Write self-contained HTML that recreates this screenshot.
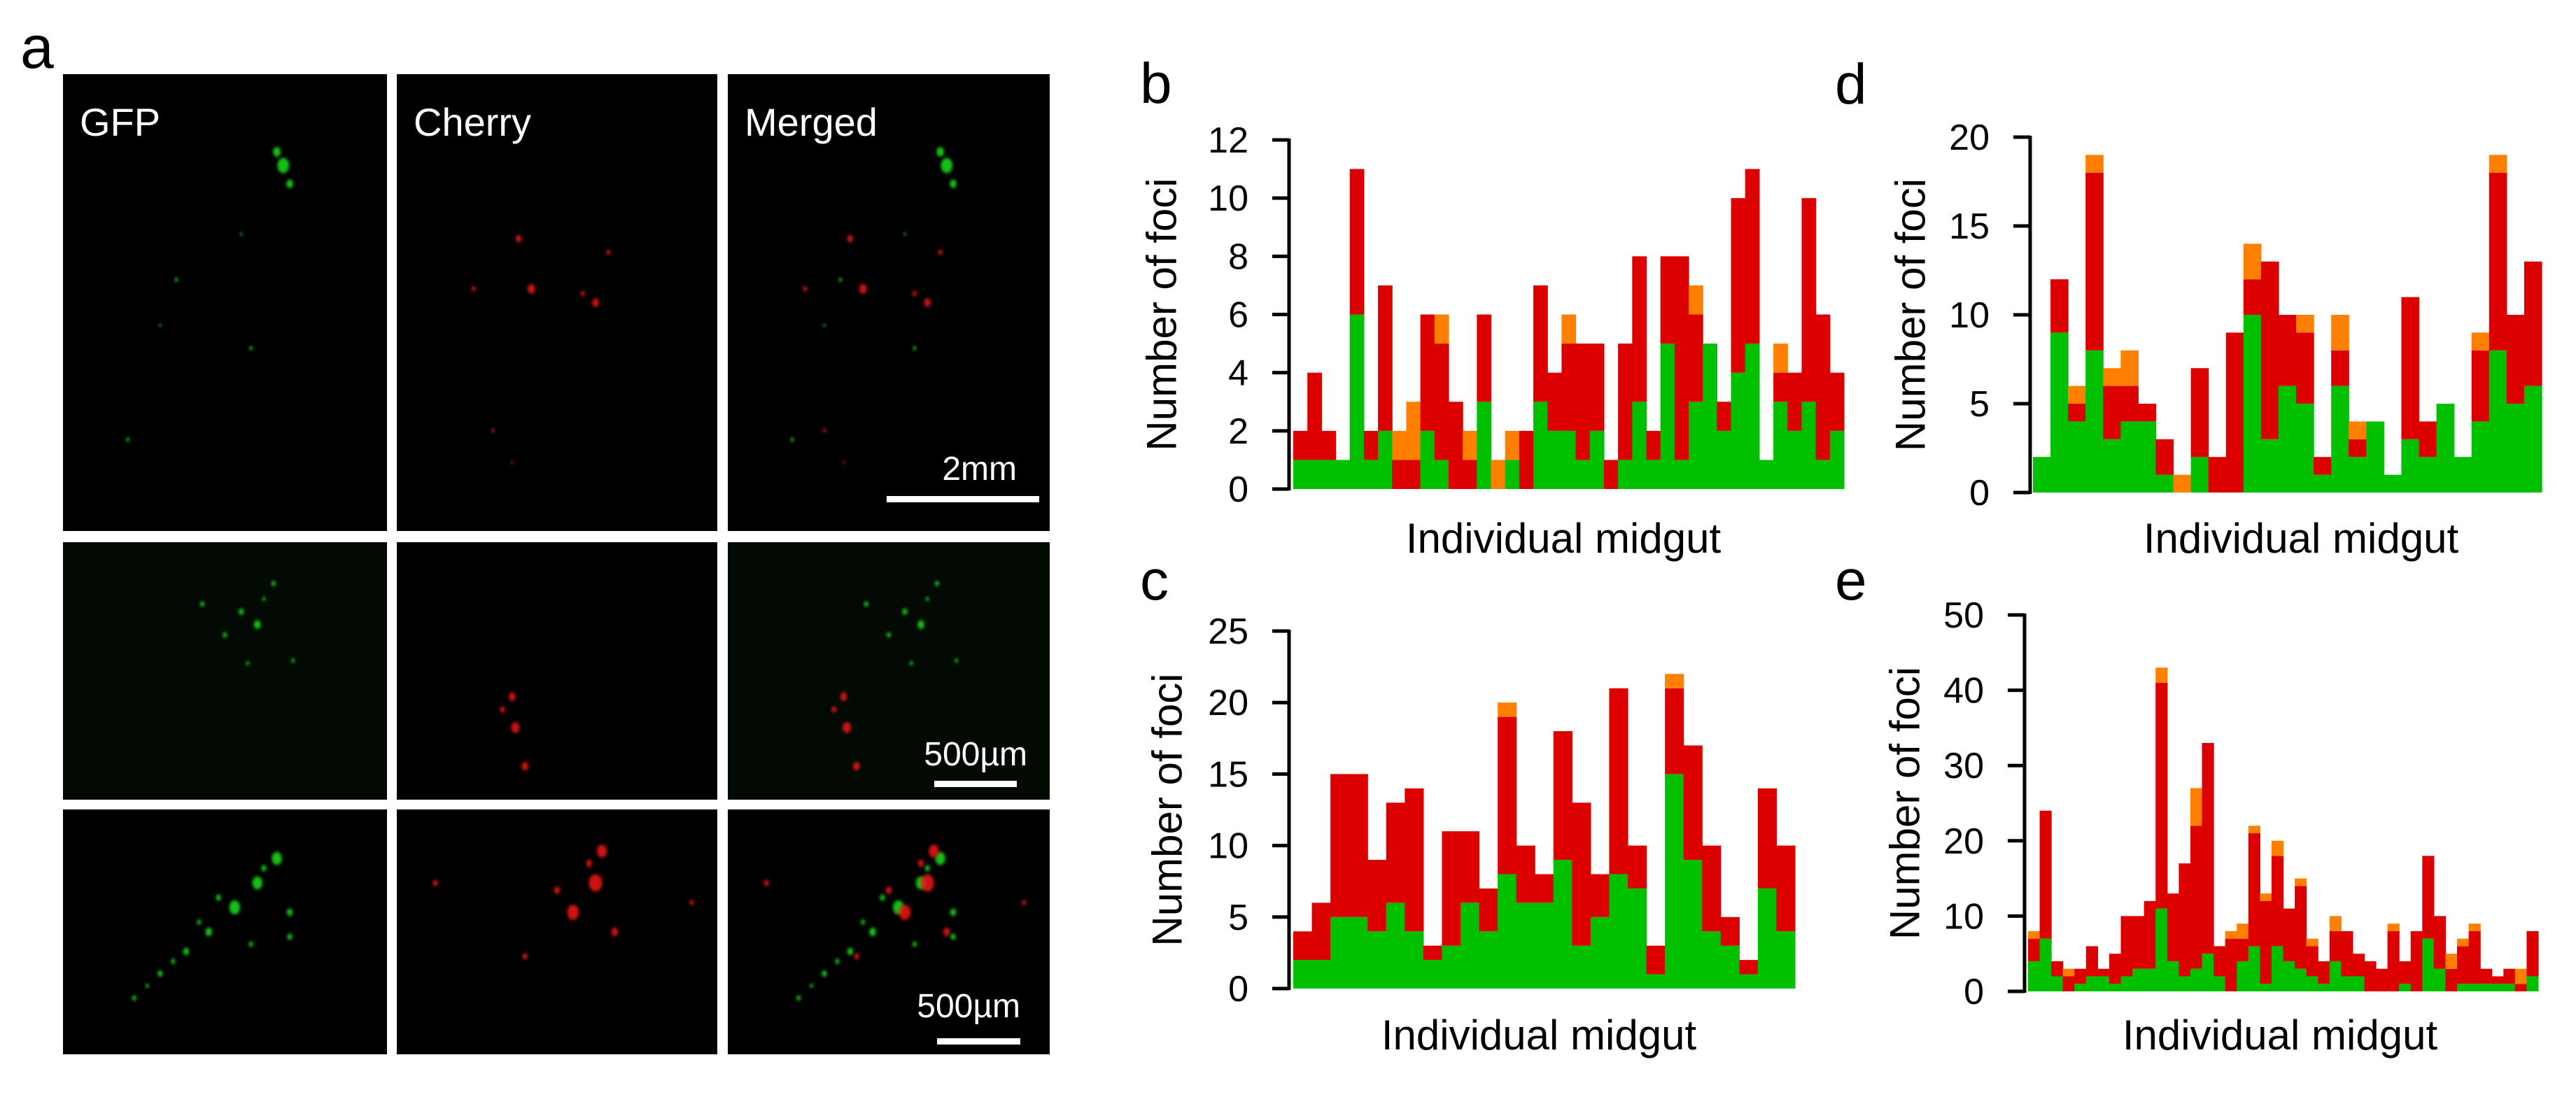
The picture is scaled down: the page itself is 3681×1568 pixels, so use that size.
<!DOCTYPE html>
<html><head><meta charset="utf-8"><style>
html,body{margin:0;padding:0;background:#fff;}
svg{display:block;font-family:"Liberation Sans",Arial,sans-serif;}
</style></head><body>
<svg id="fig" width="3681" height="1568" viewBox="0 0 3681 1568" xmlns="http://www.w3.org/2000/svg">
<defs>
<filter id="blur2" x="-50%" y="-50%" width="200%" height="200%"><feGaussianBlur stdDeviation="2"/></filter>
</defs>
<rect width="3681" height="1568" fill="#fff"/>
<text x="29" y="97" font-size="86" fill="#000">a</text>
<g id="micro"></g>
<g id="charts"></g>
</svg>
<script>
// ---------- Chart data (stacked components: green, red, orange) ----------
const bGreen=[1,1,1,1,6,1,2,0,0,2,1,0,0,3,0,1,0,3,2,2,1,2,0,1,3,1,5,1,3,5,2,4,5,1,3,2,3,1,2];
const bRed=[1,3,1,0,5,1,5,1,1,4,4,3,1,3,0,0,2,4,2,3,4,3,1,4,5,1,3,7,3,0,1,6,6,0,1,2,7,5,2];
const bOrange=[0,0,0,0,0,0,0,1,2,0,1,0,1,0,1,1,0,0,0,1,0,0,0,0,0,0,0,0,1,0,0,0,0,0,1,0,0,0,0];
const bTicks=[0,2,4,6,8,10,12];

const cGreen=[2,2,5,5,4,6,4,2,3,6,4,8,6,6,9,3,5,8,7,1,15,9,4,3,1,7,4];
const cRed=[2,4,10,10,5,7,10,1,8,5,3,11,4,2,9,10,3,13,3,2,6,8,6,2,1,7,6];
const cOrange=[0,0,0,0,0,0,0,0,0,0,0,1,0,0,0,0,0,0,0,0,1,0,0,0,0,0,0];
const cTicks=[0,5,10,15,20,25];

const dGreen=[2,9,4,8,3,4,4,1,0,2,0,0,10,3,6,5,1,6,2,4,1,3,2,5,2,4,8,5,6];
const dRed=[0,3,1,10,3,2,1,2,0,5,2,9,2,10,4,4,1,2,1,0,0,8,2,0,0,4,10,5,7];
const dOrange=[0,0,1,1,1,2,0,0,1,0,0,0,2,0,0,1,0,2,1,0,0,0,0,0,0,1,1,0,0];
const dTicks=[0,5,10,15,20];

const eGreen=[4,7,2,0,1,2,2,1,2,3,3,11,4,2,3,5,2,0,4,6,1,6,4,3,2,1,4,2,2,0,0,0,1,0,7,3,0,1,1,1,1,1,0,2];
const eRed=[3,17,2,2,2,4,1,4,8,7,9,30,9,15,19,28,4,7,3,15,11,12,7,11,4,3,4,6,3,4,3,8,3,8,11,7,3,5,7,2,1,2,1,6];
const eOrange=[1,0,0,1,0,0,0,0,0,0,0,2,0,0,5,0,0,1,2,1,1,2,0,1,1,0,2,0,0,0,0,1,0,0,0,0,2,1,1,0,0,0,2,0];
const eTicks=[0,10,20,30,40,50];

const NS="http://www.w3.org/2000/svg";
function mk(tag,attrs,parent){const e=document.createElementNS(NS,tag);for(const k in attrs)e.setAttribute(k,attrs[k]);if(parent)parent.appendChild(e);return e;}

const COLORS={green:"#00c000",red:"#dd0000",orange:"#ff8000"};
const charts=[
 {id:"b",green:bGreen,red:bRed,orange:bOrange,ticks:bTicks,axisX:1842,base:699,top:200,x0:1848,x1:2635,letterX:1629,letterY:147,titleX:1660,xtX:2234,xtY:790},
 {id:"c",green:cGreen,red:cRed,orange:cOrange,ticks:cTicks,axisX:1842,base:1413,top:902,x0:1848,x1:2565,letterX:1629,letterY:857,titleX:1668,xtX:2199,xtY:1500},
 {id:"d",green:dGreen,red:dRed,orange:dOrange,ticks:dTicks,axisX:2901,base:704,top:196,x0:2905,x1:3632,letterX:2622,letterY:148,titleX:2730,xtX:3288,xtY:790},
 {id:"e",green:eGreen,red:eRed,orange:eOrange,ticks:eTicks,axisX:2893,base:1417,top:879,x0:2898,x1:3627,letterX:2622,letterY:857,titleX:2722,xtX:3258,xtY:1500}
];
const root=document.getElementById("charts");
charts.forEach(ch=>{
  const g=mk("g",{},root);
  
  
  const ymax=ch.ticks[ch.ticks.length-1];
  const yS=v=>ch.base-(v/ymax)*(ch.base-ch.top);
  const n=ch.green.length;
  const bw=(ch.x1-ch.x0)/n;
  const xS=i=>ch.x0+i*bw;
  for(let i=0;i<n;i++){
    let acc=0;
    [["green",ch.green[i]],["red",ch.red[i]],["orange",ch.orange[i]]].forEach(([k,v])=>{
      if(v>0){
        const r=mk("rect",{x:xS(i),y:yS(acc+v),width:bw+0.6,height:yS(acc)-yS(acc+v),fill:COLORS[k]},g);
        
        
      }
      acc+=v;
    });
  }
  const ax=mk("line",{x1:ch.axisX,x2:ch.axisX,y1:yS(ymax)-2,y2:yS(0)+2,stroke:"#000","stroke-width":5},g);
  
  
  ch.ticks.forEach(t=>{
    const tk=mk("line",{x1:ch.axisX-24,x2:ch.axisX,y1:yS(t),y2:yS(t),stroke:"#000","stroke-width":5},g);
    
    
    const tl=mk("text",{x:ch.axisX-58,y:yS(t)+18,"font-size":52,"text-anchor":"end",fill:"#000"},g);
    tl.textContent=t;
    
    
  });
  const midY=(ch.top+ch.base)/2;
  const yt=mk("text",{x:ch.titleX,y:midY,"font-size":60,"text-anchor":"middle","dominant-baseline":"central",transform:`rotate(-90 ${ch.titleX} ${midY})`,fill:"#000"},g);
  yt.textContent="Number of foci";
  
  
  const xt=mk("text",{x:ch.xtX,y:ch.xtY,"font-size":60,"text-anchor":"middle",fill:"#000"},g);
  xt.textContent="Individual midgut";
  
  
  const lt=mk("text",{x:ch.letterX,y:ch.letterY,"font-size":82,fill:"#000"},g);
  lt.textContent=ch.id;
  
  
});

// ---------- Microscopy panel ----------
const micro=document.getElementById("micro");
const cols=[[90,553],[567,1025],[1040,1500]];
const rows=[[106,759],[775,1143],[1157,1507]];
const colNames=["gfp","cherry","merged"];
const tints=[["#000","#000","#000"],["#030a03","#000","#030a03"],["#000","#000","#000"]];
rows.forEach((r,ri)=>cols.forEach((c,ci)=>{
  const rr=mk("rect",{x:c[0],y:r[0],width:c[1]-c[0],height:r[1]-r[0],fill:tints[ri][ci]},micro);
  
  
}));
const spots=[
 [0,0.68,0.2,14,"g"],[0,0.66,0.17,9,"g"],[0,0.7,0.24,8,"g"],[0,0.58,0.6,4,"g"],[0,0.35,0.45,4,"g"],[0,0.2,0.8,4,"g"],[0,0.3,0.55,3,"g"],[0,0.55,0.35,3,"g"],
 [0,0.42,0.47,9,"r"],[0,0.62,0.5,8,"r"],[0,0.38,0.36,7,"r"],[0,0.66,0.39,5,"r"],[0,0.24,0.47,5,"r"],[0,0.58,0.48,5,"r"],[0,0.3,0.78,4,"r"],[0,0.36,0.85,3,"r"],
 [1,0.6,0.32,8,"g"],[1,0.55,0.27,6,"g"],[1,0.43,0.24,5,"g"],[1,0.5,0.36,5,"g"],[1,0.65,0.16,5,"g"],[1,0.57,0.47,4,"g"],[1,0.71,0.46,4,"g"],
 [1,0.36,0.6,8,"r"],[1,0.37,0.72,10,"r"],[1,0.4,0.87,8,"r"],[1,0.33,0.65,6,"r"],
 [2,0.66,0.2,12,"g"],[2,0.6,0.3,12,"g"],[2,0.53,0.4,13,"g"],[2,0.45,0.5,8,"g"],[2,0.38,0.58,7,"g"],[2,0.3,0.67,6,"g"],[2,0.22,0.77,5,"g"],[2,0.7,0.42,7,"g"],[2,0.7,0.52,6,"g"],[2,0.58,0.55,5,"g"],
 [2,0.62,0.3,16,"r"],[2,0.55,0.42,14,"r"],[2,0.64,0.17,12,"r"],[2,0.68,0.5,8,"r"],[2,0.4,0.6,6,"r"],[2,0.12,0.3,6,"r"],[2,0.92,0.38,5,"r"],
 [2,0.48,0.36,6,"g"],[2,0.42,0.46,5,"g"],[2,0.34,0.62,5,"g"],[2,0.26,0.72,4,"g"],[2,0.62,0.24,6,"g"],[1,0.62,0.22,4,"g"],[2,0.5,0.33,7,"r"],[2,0.6,0.22,7,"r"]
];
spots.forEach(s=>{
  const [ri,rx,ry,rad0,k]=s;
  const rad=rad0*0.6;
  const r=rows[ri];
  const targets=k==="g"?[0,2]:[1,2];
  targets.forEach(ci=>{
    const c=cols[ci];
    const cx=c[0]+rx*(c[1]-c[0]), cy=r[0]+ry*(r[1]-r[0]);
    const col=k==="g"?"#1ee01e":"#f01818";
    const dot=mk("ellipse",{cx:cx,cy:cy,rx:rad,ry:rad*1.3,fill:col,filter:"url(#blur2)",opacity:0.85},micro);
    
    
  });
});
[["GFP",0],["Cherry",1],["Merged",2]].forEach(([t,ci])=>{
  const tx=mk("text",{x:cols[ci][0]+24,y:194,"font-size":56,fill:"#fff"},micro);
  tx.textContent=t;
  
  
});
[["2mm",1453,686,1267,1485,709],["500µm",1468,1094,1335,1453,1116],["500µm",1458,1454,1339,1458,1484]].forEach(([t,tx,ty,bx0,bx1,by],i)=>{
  const te=mk("text",{x:tx,y:ty,"font-size":48,"text-anchor":"end",fill:"#fff"},micro);
  te.textContent=t;
  
  
  const rb=mk("rect",{x:bx0,y:by,width:bx1-bx0,height:9,fill:"#fff"},micro);
  
  
});
</script>
</body></html>
